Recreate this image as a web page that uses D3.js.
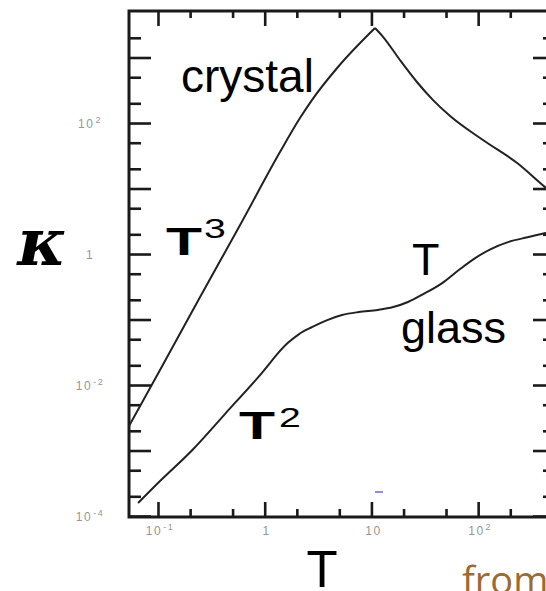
<!DOCTYPE html>
<html>
<head>
<meta charset="utf-8">
<script src="https://cdn.jsdelivr.net/npm/d3@7"></script>
<style>
  html, body { margin: 0; padding: 0; background: #fff; }
  svg { display: block; }
</style>
</head>
<body>
<svg id="chart" width="546" height="591"></svg>
<script>
// Thermal conductivity vs temperature, log-log
const crystalRiseT = [0.0535, 0.1045, 0.248, 0.588, 1.39, 2.14, 2.77, 4.86, 10.8];
const crystalRiseK = [0.00237, 0.0169, 0.221, 2.77, 36, 119, 224, 716, 2818];
const crystalFallT = [10.8, 12.9, 18.5, 26.7, 37.8, 54.6, 111, 232, 424, 525];
const crystalFallK = [2818, 2055, 916, 423, 224, 128, 55, 24.5, 10.5, 7.9];

const glassT = [0.065, 0.1, 0.21, 0.43, 0.87, 1.65, 2.1, 2.8, 3.8, 5.3, 7.6, 11.5, 16, 22, 30, 46, 65, 93, 130, 190, 290, 430, 525];
const glassK = [0.000158, 0.00032, 0.00102, 0.0037, 0.0132, 0.044, 0.06, 0.077, 0.097, 0.117, 0.13, 0.14, 0.155, 0.185, 0.24, 0.36, 0.56, 0.86, 1.18, 1.52, 1.8, 2.09, 2.2];

const xMajorTicks = [0.1, 1, 10, 100];
const xMinorTicks = [0.2, 0.5, 2, 5, 20, 50, 200, 500];
const xTickBase = ["10", "1", "10", "10"];
const xTickExp = ["-1", "", "", "2"];

const yMajorTicks = [1e-4, 1e-3, 1e-2, 1e-1, 1, 10, 100, 1000];
const yMinorTicks = [2e-4, 5e-4, 2e-3, 5e-3, 2e-2, 5e-2, 0.2, 0.5, 2, 5, 20, 50, 200, 500, 2000];
const yLabelTicks = [1e-4, 1e-2, 1, 100];
const yTickBase = ["10", "10", "1", "10"];
const yTickExp = ["-4", "-2", "", "2"];

const svg = d3.select("#chart");
const L = 129, R = 555, T = 11, B = 517;

const x = d3.scaleLog().domain([0.0535, 525]).range([L, R]);
const y = d3.scaleLog().domain([0.0000966, 5130]).range([B, T]);

const ink = "#1a1a1a";
const labelGray = "#969696";
const sans = "Liberation Sans, Arial, sans-serif";

svg.append("defs").append("clipPath").attr("id", "plot-clip")
  .append("rect").attr("x", L).attr("y", T).attr("width", R - L).attr("height", B - T);

// ticks: drawn with d3 axes, pointing into the frame
function styleAxis(g) {
  g.select(".domain").remove();
  g.selectAll(".tick line").attr("stroke", ink).attr("stroke-width", 2.6);
}
function ticks(axisFn, scale, values, size, tx, ty) {
  svg.append("g").attr("transform", `translate(${tx},${ty})`)
    .call(axisFn(scale).tickValues(values).tickSize(-size).tickFormat(""))
    .call(styleAxis);
}
ticks(d3.axisLeft, y, yMajorTicks, 22, L, 0);
ticks(d3.axisLeft, y, yMinorTicks, 12, L, 0);
ticks(d3.axisRight, y, yMajorTicks, 22, R, 0);
ticks(d3.axisRight, y, yMinorTicks, 12, R, 0);
ticks(d3.axisBottom, x, xMajorTicks, 15, 0, B);
ticks(d3.axisBottom, x, xMinorTicks, 8, 0, B);
ticks(d3.axisTop, x, xMajorTicks, 15, 0, T);
ticks(d3.axisTop, x, xMinorTicks, 7, 0, T);

// frame
svg.append("rect").attr("x", L).attr("y", T).attr("width", R - L).attr("height", B - T)
  .attr("fill", "none").attr("stroke", ink).attr("stroke-width", 3);

// tick labels with raised exponents
function tickLabel(g, base, exp) {
  g.append("tspan").text(base);
  if (exp) g.append("tspan").attr("font-size", 9).attr("dy", -5).attr("dx", 1).text(exp);
}
svg.append("g").selectAll("text").data(yLabelTicks).join("text")
  .attr("x", 90).attr("y", d => y(d) + 5)
  .attr("text-anchor", "middle")
  .attr("font-family", sans).attr("font-size", 12).attr("letter-spacing", 1.5)
  .attr("fill", labelGray)
  .each(function (d, i) { tickLabel(d3.select(this), yTickBase[i], yTickExp[i]); });

svg.append("g").selectAll("text").data(xMajorTicks).join("text")
  .attr("x", d => x(d) + 2).attr("y", 535)
  .attr("text-anchor", "middle")
  .attr("font-family", sans).attr("font-size", 12).attr("letter-spacing", 1.5)
  .attr("fill", labelGray)
  .each(function (d, i) { tickLabel(d3.select(this), xTickBase[i], xTickExp[i]); });

// curves
const line = d3.line().x(d => x(d[0])).y(d => y(d[1])).curve(d3.curveMonotoneX);
const plot = svg.append("g").attr("clip-path", "url(#plot-clip)");
function addCurve(ts, ks) {
  plot.append("path")
    .datum(ts.map((t, i) => [t, ks[i]]))
    .attr("d", line)
    .attr("fill", "none").attr("stroke", "#222").attr("stroke-width", 2);
}
addCurve(crystalRiseT, crystalRiseK);
addCurve(crystalFallT, crystalFallK);
addCurve(glassT, glassK);

// annotations
svg.append("text").attr("x", 181).attr("y", 92).attr("font-family", sans)
  .attr("font-size", 46).attr("fill", "#000").text("crystal");
svg.append("text").attr("x", 412).attr("y", 275).attr("font-family", sans)
  .attr("font-size", 45).attr("fill", "#000").text("T");
svg.append("text").attr("x", 401).attr("y", 343).attr("font-family", sans)
  .attr("font-size", 45).attr("fill", "#000").text("glass");

function powerLabel(tx, ty, sx, sy, digit) {
  svg.append("text").attr("transform", `translate(${tx},${ty}) scale(1.55,1)`)
    .attr("font-family", sans).attr("font-weight", "bold")
    .attr("font-size", 38).attr("fill", "#000").text("T");
  svg.append("text").attr("transform", `translate(${sx},${sy}) scale(1.4,1)`)
    .attr("font-family", sans)
    .attr("font-size", 28).attr("fill", "#000").text(digit);
}
powerLabel(166, 255, 204, 238, "3");
powerLabel(239, 439, 279, 427, "2");

// axis titles
svg.append("text").attr("x", 42).attr("y", 265).attr("text-anchor", "middle")
  .attr("font-family", "DejaVu Serif, Liberation Serif, serif")
  .attr("font-style", "italic").attr("font-weight", "bold")
  .attr("font-size", 66).attr("fill", "#000").text("κ");
svg.append("text").attr("x", 322).attr("y", 587).attr("text-anchor", "middle")
  .attr("font-family", sans).attr("font-size", 51).attr("fill", "#000").text("T");

svg.append("text").attr("x", 462).attr("y", 594).attr("font-family", "Open Sans, Liberation Sans, sans-serif")
  .attr("font-size", 38).attr("fill", "#9c6a33").text("from");

// small blue mark under the curves
svg.append("line").attr("x1", 375).attr("x2", 383).attr("y1", 492).attr("y2", 492)
  .attr("stroke", "#2020b0").attr("stroke-width", 1);
</script>
</body>
</html>
